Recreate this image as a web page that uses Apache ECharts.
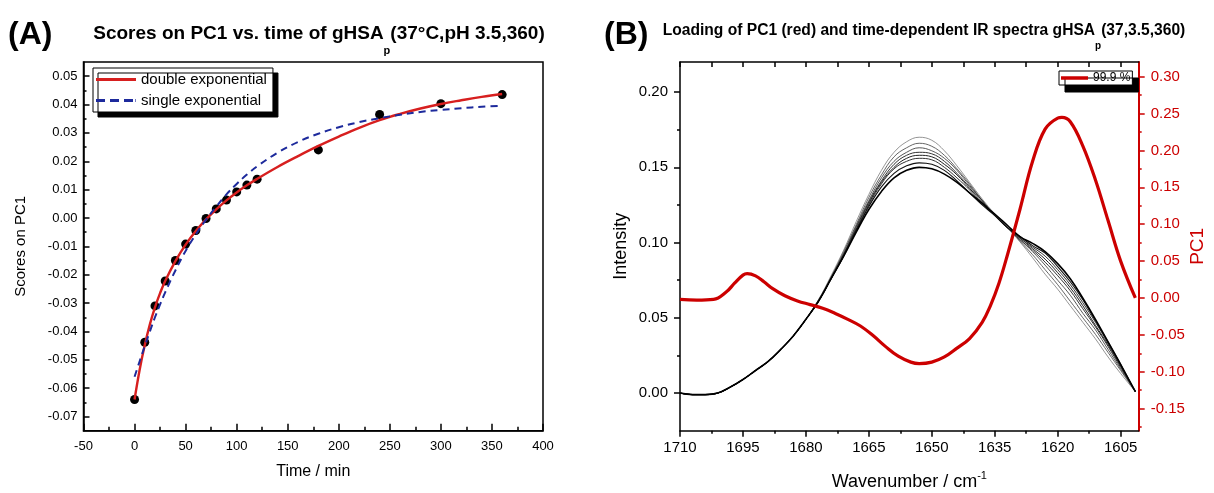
<!DOCTYPE html>
<html><head><meta charset="utf-8">
<script src="https://cdn.jsdelivr.net/npm/echarts@6/dist/echarts.min.js"></script>
<style>html,body{margin:0;padding:0;background:#fff}#c{width:1214px;height:493px}</style>
</head><body><div id="c"></div>
<script>
// ---------- Panel A data ----------
const timeMin   = [0, 10, 20, 30, 40, 50, 60, 70, 80, 90, 100, 110, 120, 180, 240, 300, 360];
const scoresPC1 = [-0.064, -0.0438, -0.031, -0.0222, -0.015, -0.0092, -0.0044, -0.0002, 0.0032, 0.0063, 0.0092, 0.0116, 0.0137, 0.0240, 0.0365, 0.0403, 0.0435];
const fitTime   = [0, 5, 10, 15, 20, 25, 30, 40, 50, 60, 70, 80, 90, 100, 110, 120, 140, 160, 180, 200, 220, 240, 260, 280, 300, 320, 340, 360];
const doubleExp = [-0.064, -0.0535, -0.0448, -0.0375, -0.0315, -0.0265, -0.0222, -0.0152, -0.0094, -0.0046, -0.0005, 0.0030, 0.0062, 0.0090, 0.0115, 0.0138, 0.0180, 0.0218, 0.0254, 0.0287, 0.0318, 0.0345, 0.0367, 0.0386, 0.0402, 0.0415, 0.0427, 0.0437];
const singleExp = [-0.056, -0.0505, -0.0452, -0.040, -0.035, -0.0305, -0.0262, -0.0185, -0.0116, -0.0058, -0.0006, 0.0040, 0.0083, 0.0120, 0.0153, 0.0182, 0.0230, 0.0268, 0.0297, 0.0320, 0.0338, 0.0352, 0.0364, 0.0374, 0.0381, 0.0387, 0.0392, 0.0396];
const scoreTicks      = [-0.07, -0.06, -0.05, -0.04, -0.03, -0.02, -0.01, 0, 0.01, 0.02, 0.03, 0.04, 0.05];
const scoreMinorTicks = [-0.065, -0.055, -0.045, -0.035, -0.025, -0.015, -0.005, 0.005, 0.015, 0.025, 0.035, 0.045];

// ---------- Panel B data ----------
const wavenumber = [1710, 1707, 1704, 1701, 1698, 1695, 1692, 1689, 1686, 1683, 1680, 1677, 1674, 1671, 1668, 1665, 1662, 1659, 1656, 1653, 1650, 1647, 1644, 1641, 1638, 1635, 1632, 1629, 1626, 1623, 1620, 1617, 1614, 1611, 1608, 1605, 1601.5];
const spectrum1 = [0.000, -0.001, -0.001, 0.000, 0.004, 0.009, 0.015, 0.021, 0.029, 0.038, 0.049, 0.062, 0.078, 0.095, 0.114, 0.132, 0.148, 0.160, 0.167, 0.170, 0.168, 0.161, 0.151, 0.140, 0.129, 0.119, 0.110, 0.1005, 0.090, 0.079, 0.069, 0.058, 0.047, 0.036, 0.024, 0.013, 0.001];
const spectrum2 = [0.000, -0.001, -0.001, 0.000, 0.004, 0.009, 0.015, 0.021, 0.029, 0.038, 0.049, 0.062, 0.077, 0.094, 0.112, 0.130, 0.145, 0.157, 0.163, 0.166, 0.164, 0.158, 0.149, 0.139, 0.128, 0.118, 0.110, 0.101, 0.092, 0.082, 0.072, 0.061, 0.050, 0.039, 0.027, 0.015, 0.001];
const spectrum3 = [0.000, -0.001, -0.001, 0.000, 0.004, 0.009, 0.015, 0.021, 0.029, 0.038, 0.049, 0.061, 0.077, 0.093, 0.111, 0.128, 0.143, 0.154, 0.160, 0.163, 0.161, 0.156, 0.148, 0.138, 0.128, 0.118, 0.110, 0.102, 0.094, 0.085, 0.075, 0.065, 0.053, 0.042, 0.029, 0.016, 0.001];
const spectrum4 = [0.000, -0.001, -0.001, 0.000, 0.004, 0.009, 0.015, 0.021, 0.029, 0.038, 0.049, 0.061, 0.076, 0.092, 0.110, 0.127, 0.141, 0.152, 0.158, 0.160, 0.159, 0.154, 0.146, 0.137, 0.128, 0.118, 0.110, 0.102, 0.095, 0.087, 0.078, 0.068, 0.056, 0.044, 0.031, 0.017, 0.001];
const spectrum5 = [0.000, -0.001, -0.001, 0.000, 0.004, 0.009, 0.015, 0.021, 0.029, 0.038, 0.049, 0.061, 0.076, 0.092, 0.109, 0.126, 0.140, 0.150, 0.156, 0.158, 0.157, 0.152, 0.145, 0.136, 0.127, 0.118, 0.110, 0.103, 0.096, 0.089, 0.080, 0.070, 0.058, 0.045, 0.032, 0.018, 0.001];
const spectrum6 = [0.000, -0.001, -0.001, 0.000, 0.004, 0.009, 0.015, 0.021, 0.029, 0.038, 0.049, 0.061, 0.076, 0.091, 0.108, 0.125, 0.139, 0.149, 0.154, 0.156, 0.155, 0.150, 0.143, 0.135, 0.126, 0.118, 0.110, 0.103, 0.097, 0.091, 0.082, 0.072, 0.060, 0.047, 0.033, 0.018, 0.001];
const spectrum7 = [0.000, -0.001, -0.001, 0.000, 0.004, 0.009, 0.015, 0.021, 0.029, 0.038, 0.049, 0.061, 0.076, 0.091, 0.108, 0.124, 0.137, 0.146, 0.151, 0.153, 0.152, 0.148, 0.141, 0.133, 0.125, 0.118, 0.110, 0.104, 0.098, 0.093, 0.084, 0.074, 0.062, 0.048, 0.034, 0.019, 0.001];
const spectrum8 = [0.000, -0.001, -0.001, 0.000, 0.004, 0.009, 0.015, 0.021, 0.029, 0.038, 0.049, 0.061, 0.076, 0.091, 0.107, 0.122, 0.134, 0.143, 0.148, 0.150, 0.149, 0.1455, 0.140, 0.133, 0.126, 0.119, 0.1115, 0.104, 0.0995, 0.094, 0.086, 0.076, 0.063, 0.049, 0.034, 0.019, 0.001];
const pc1Wavenumber = [1710, 1706, 1702, 1699, 1697, 1695, 1694, 1692, 1690, 1688, 1685, 1682, 1679, 1676, 1673, 1670, 1667, 1664, 1661, 1658, 1655, 1653, 1650, 1647, 1644, 1641, 1638, 1636, 1634, 1632, 1629, 1626, 1623, 1620, 1619, 1617, 1614, 1611, 1608, 1605, 1601.5];
const pc1Loading    = [-0.002, -0.003, -0.002, 0.008, 0.020, 0.031, 0.033, 0.030, 0.022, 0.013, 0.003, -0.004, -0.009, -0.014, -0.021, -0.029, -0.038, -0.051, -0.066, -0.079, -0.087, -0.089, -0.087, -0.080, -0.068, -0.055, -0.033, -0.010, 0.020, 0.058, 0.120, 0.185, 0.229, 0.244, 0.245, 0.239, 0.206, 0.160, 0.105, 0.050, 0.000];
const wnTicks        = [1710, 1695, 1680, 1665, 1650, 1635, 1620, 1605];
const wnMinorTicks   = [1702.5, 1687.5, 1672.5, 1657.5, 1642.5, 1627.5, 1612.5];
const intensityTicks = [0, 0.05, 0.10, 0.15, 0.20];
const intensityMinor = [0.025, 0.075, 0.125, 0.175];
const pc1Ticks       = [-0.15, -0.10, -0.05, 0, 0.05, 0.10, 0.15, 0.20, 0.25, 0.30];
const pc1MinorTicks  = [-0.175, -0.125, -0.075, -0.025, 0.025, 0.075, 0.125, 0.175, 0.225, 0.275];

const spectra = [spectrum1, spectrum2, spectrum3, spectrum4, spectrum5, spectrum6, spectrum7, spectrum8];
const spectraColor = ['#7a7a7a', '#555', '#444', '#333', '#222', '#333', '#111', '#000'];
const spectraWidth = [0.8, 0.9, 0.9, 1, 1, 1, 1.1, 1.6];

const FONT = '"Liberation Sans", Arial, sans-serif';
const BLACK = '#000';
const RED = '#cc0000';
const FIT_RED = '#d71f1f';
const FIT_BLUE = '#1d2a9c';

function baseAxis(extra) {
  return Object.assign({
    type: 'value',
    splitLine: { show: false },
    minorSplitLine: { show: false },
    axisLine: { show: true, onZero: false, lineStyle: { color: BLACK, width: 1.5 } },
    axisTick: { show: true, lineStyle: { color: BLACK, width: 1.5 } },
    axisLabel: { show: true, color: BLACK, fontFamily: FONT },
    nameTextStyle: { color: BLACK, fontFamily: FONT },
    nameMoveOverlap: false
  }, extra);
}
function tickOnly(extra) {
  return Object.assign({
    type: 'value',
    splitLine: { show: false },
    axisLine: { show: false, onZero: false },
    axisLabel: { show: false }
  }, extra);
}
const fmt2 = v => Number(v).toFixed(2);
const fmtInt = v => String(Math.round(v));

const option = {
  animation: false,
  backgroundColor: '#fff',
  grid: [
    { left: 83.5, top: 62, width: 459.5, height: 368.7, show: true, borderColor: BLACK, borderWidth: 1.5, containLabel: false, outerBoundsMode: 'none' },
    { left: 680, top: 62, width: 458.7, height: 368.7, show: false, containLabel: false, outerBoundsMode: 'none' }
  ],
  xAxis: [
    baseAxis({ gridIndex: 0, min: -50, max: 400, interval: 50,
      axisTick: { show: true, inside: true, length: 7, lineStyle: { color: BLACK, width: 1.5 } },
      minorTick: { show: true, splitNumber: 2, length: 4, lineStyle: { color: BLACK, width: 1.5 } },
      axisLabel: { color: BLACK, fontFamily: FONT, fontSize: 13, margin: 9 },
      name: 'Time / min', nameLocation: 'middle', nameGap: 33,
      nameTextStyle: { color: BLACK, fontFamily: FONT, fontSize: 16 } }),
    baseAxis({ gridIndex: 1, inverse: true, min: 1600.7, max: 1710, position: 'bottom',
      axisTick: { show: true, length: 6, customValues: wnTicks, lineStyle: { color: BLACK, width: 1.5 } },
      axisLabel: { color: BLACK, fontFamily: FONT, fontSize: 15, margin: 10, customValues: wnTicks, formatter: fmtInt },
      name: '{a|Wavenumber / cm}{b|-1}', nameLocation: 'middle', nameGap: 40,
      nameTextStyle: { color: BLACK, fontFamily: FONT, rich: {
        a: { fontSize: 18, fontFamily: FONT, color: BLACK, lineHeight: 20, verticalAlign: 'bottom' },
        b: { fontSize: 11, fontFamily: FONT, color: BLACK, lineHeight: 11, verticalAlign: 'top' } } } }),
    tickOnly({ gridIndex: 1, inverse: true, min: 1600.7, max: 1710, position: 'bottom',
      axisTick: { show: true, length: 3, customValues: wnMinorTicks, lineStyle: { color: BLACK, width: 1.5 } } }),
    baseAxis({ gridIndex: 1, inverse: true, min: 1600.7, max: 1710, position: 'top',
      axisTick: { show: true, inside: true, length: 5, customValues: wnTicks.concat(wnMinorTicks), lineStyle: { color: BLACK, width: 1.5 } },
      axisLabel: { show: false } })
  ],
  yAxis: [
    baseAxis({ gridIndex: 0, min: -0.075, max: 0.055, position: 'left',
      axisTick: { show: true, inside: true, length: 6, customValues: scoreTicks, lineStyle: { color: BLACK, width: 1.5 } },
      axisLabel: { color: BLACK, fontFamily: FONT, fontSize: 13, margin: 6, customValues: scoreTicks, formatter: fmt2 },
      name: 'Scores on PC1', nameLocation: 'middle', nameGap: 55,
      nameTextStyle: { color: BLACK, fontFamily: FONT, fontSize: 15 } }),
    tickOnly({ gridIndex: 0, min: -0.075, max: 0.055, position: 'left',
      axisTick: { show: true, inside: true, length: 3, customValues: scoreMinorTicks, lineStyle: { color: BLACK, width: 1.5 } } }),
    baseAxis({ gridIndex: 1, min: -0.025, max: 0.22, position: 'left',
      axisTick: { show: true, length: 6, customValues: intensityTicks, lineStyle: { color: BLACK, width: 1.5 } },
      axisLabel: { color: BLACK, fontFamily: FONT, fontSize: 15, margin: 12, customValues: intensityTicks, formatter: fmt2 },
      name: 'Intensity', nameLocation: 'middle', nameGap: 50,
      nameTextStyle: { color: BLACK, fontFamily: FONT, fontSize: 18 } }),
    tickOnly({ gridIndex: 1, min: -0.025, max: 0.22, position: 'left',
      axisTick: { show: true, length: 3, customValues: intensityMinor, lineStyle: { color: BLACK, width: 1.5 } } }),
    baseAxis({ gridIndex: 1, min: -0.18, max: 0.32, position: 'right',
      axisLine: { show: true, onZero: false, lineStyle: { color: RED, width: 2 } },
      axisTick: { show: true, length: 6, customValues: pc1Ticks, lineStyle: { color: RED, width: 1.5 } },
      axisLabel: { color: RED, fontFamily: FONT, fontSize: 15, margin: 12, customValues: pc1Ticks, formatter: fmt2 },
      name: 'PC1', nameLocation: 'middle', nameGap: 50,
      nameTextStyle: { color: RED, fontFamily: FONT, fontSize: 19 } }),
    tickOnly({ gridIndex: 1, min: -0.18, max: 0.32, position: 'right',
      axisTick: { show: true, length: 3, customValues: pc1MinorTicks, lineStyle: { color: RED, width: 1.5 } } })
  ],
  legend: [
    { data: [
        { name: 'double exponential', icon: 'rect' },
        { name: 'single exponential', icon: 'path://M0,0h9v3h-9zM14,0h9v3h-9zM28,0h9v3h-9zM39.4,0h0.6v3h-0.6z' }
      ],
      orient: 'vertical', left: 93, top: 68, symbolKeepAspect: false,
      itemWidth: 40, itemHeight: 3, itemGap: 4, padding: [3, 6, 3, 3],
      backgroundColor: '#fff', borderColor: BLACK, borderWidth: 1,
      shadowColor: BLACK, shadowBlur: 0, shadowOffsetX: 5, shadowOffsetY: 5,
      textStyle: { color: BLACK, fontFamily: FONT, fontSize: 15, lineHeight: 17 } },
    { data: [{ name: '99.9 %', icon: 'rect' }], left: 1059, top: 71, itemWidth: 27, itemHeight: 3.5, itemGap: 0,
      padding: [1, 2, 1, 2], symbolKeepAspect: false,
      backgroundColor: '#fff', borderColor: BLACK, borderWidth: 1,
      shadowColor: BLACK, shadowBlur: 0, shadowOffsetX: 6, shadowOffsetY: 7,
      textStyle: { color: BLACK, fontFamily: FONT, fontSize: 12, lineHeight: 12 } }
  ],
  graphic: [
    { type: 'text', left: 8, top: 19, style: { text: '(A)', fontFamily: FONT, fontSize: 32, fontWeight: 'bold', fill: BLACK } },
    { type: 'text', x: 319, y: 24, style: {
      text: '{t|Scores on PC1 vs. time of gHSA}{s|p}{t|(37°C,pH 3.5,360)}', align: 'center', verticalAlign: 'top',
      rich: { t: { fontFamily: FONT, fontSize: 19, fontWeight: 'bold', fill: BLACK, lineHeight: 21, verticalAlign: 'top' },
              s: { fontFamily: FONT, fontSize: 11, fontWeight: 'bold', fill: BLACK, lineHeight: 11, verticalAlign: 'top', padding: [21, 0, 0, 0] } } } },
    { type: 'text', left: 604, top: 19, style: { text: '(B)', fontFamily: FONT, fontSize: 32, fontWeight: 'bold', fill: BLACK } },
    { type: 'text', x: 924, y: 23, style: {
      text: '{t|Loading of PC1 (red) and time-dependent IR spectra gHSA}{s|p}{t|(37,3.5,360)}', align: 'center', verticalAlign: 'top',
      rich: { t: { fontFamily: FONT, fontSize: 15.6, fontWeight: 'bold', fill: BLACK, lineHeight: 18, verticalAlign: 'top' },
              s: { fontFamily: FONT, fontSize: 10, fontWeight: 'bold', fill: BLACK, lineHeight: 10, verticalAlign: 'top', padding: [18, 0, 0, 0] } } } }
  ],
  series: [
    { type: 'scatter', name: 'data', xAxisIndex: 0, yAxisIndex: 0, z: 2, symbolSize: 9,
      itemStyle: { color: BLACK, opacity: 1 }, data: timeMin.map((t, i) => [t, scoresPC1[i]]) },
    { type: 'line', name: 'double exponential', xAxisIndex: 0, yAxisIndex: 0, z: 3, symbol: 'none', smooth: 0.4,
      lineStyle: { color: FIT_RED, width: 2.4 }, itemStyle: { color: FIT_RED },
      data: fitTime.map((t, i) => [t, doubleExp[i]]) },
    { type: 'line', name: 'single exponential', xAxisIndex: 0, yAxisIndex: 0, z: 4, symbol: 'none', smooth: 0.4,
      lineStyle: { color: FIT_BLUE, width: 2, type: [7, 5] }, itemStyle: { color: FIT_BLUE },
      data: fitTime.map((t, i) => [t, singleExp[i]]) }
  ].concat(spectra.map((s, k) => ({
      type: 'line', name: 'spectrum' + (k + 1), xAxisIndex: 1, yAxisIndex: 2, symbol: 'none', smooth: 0.4, silent: true, z: 2,
      lineStyle: { color: spectraColor[k], width: spectraWidth[k] },
      data: wavenumber.map((w, i) => [w, s[i]]) })))
   .concat([
    { type: 'line', name: '99.9 %', xAxisIndex: 1, yAxisIndex: 4, symbol: 'none', smooth: 0.4, z: 5,
      lineStyle: { color: RED, width: 3.2 }, itemStyle: { color: RED },
      data: pc1Wavenumber.map((w, i) => [w, pc1Loading[i]]) }
  ])
};
const chart = echarts.init(document.getElementById('c'), null, { renderer: 'canvas', width: 1214, height: 493 });
chart.setOption(option);
</script>
</body></html>
